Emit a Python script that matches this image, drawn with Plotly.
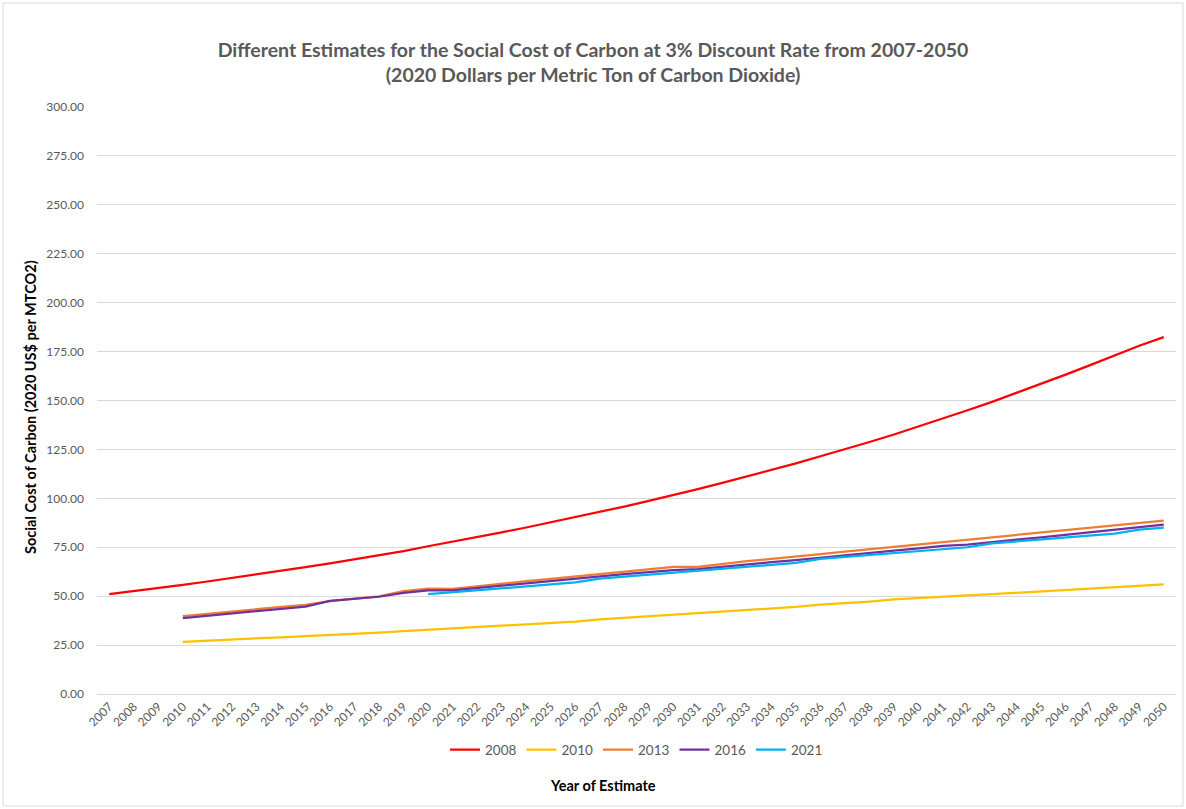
import plotly.graph_objects as go

# Estimate years shown on the category axis
years = list(range(2007, 2051))

# Social cost of carbon, 3% discount rate, 2020 US$ per metric ton CO2
scc_2008 = [51.0, 52.5, 54.2, 55.8, 57.5, 59.3, 61.0, 62.9, 64.8, 66.8,
            68.8, 70.9, 73.0, 75.5, 77.8, 80.1, 82.6, 85.1, 87.7, 90.3,
            93.0, 95.8, 98.7, 101.6, 104.7, 107.9, 111.1, 114.5, 117.9, 121.5,
            125.0, 128.8, 132.6, 136.6, 140.8, 145.0, 149.3, 153.8, 158.4, 163.2,
            168.1, 173.1, 178.0, 182.4]

years_2010 = list(range(2010, 2051))
scc_2010 = [26.7, 27.2, 27.8, 28.3, 29.0, 29.6, 30.1, 30.8, 31.4, 32.1,
            32.8, 33.5, 34.2, 34.9, 35.6, 36.3, 37.0, 38.2, 39.0, 39.8,
            40.6, 41.4, 42.1, 42.9, 43.7, 44.5, 45.7, 46.4, 47.2, 48.3,
            49.1, 49.8, 50.4, 51.0, 51.7, 52.4, 53.1, 53.8, 54.5, 55.3,
            56.0]

years_2013 = list(range(2010, 2051))
scc_2013 = [39.8, 41.0, 42.3, 43.4, 44.5, 45.5, 47.5, 48.7, 49.9, 52.6,
            53.8, 53.7, 55.1, 56.5, 57.7, 58.8, 60.0, 61.4, 62.6, 63.8,
            65.0, 65.0, 66.5, 67.9, 69.0, 70.1, 71.5, 72.8, 74.0, 75.2,
            76.5, 77.7, 78.9, 80.1, 81.4, 82.6, 83.8, 85.0, 86.3, 87.5,
            88.6]

years_2016 = list(range(2010, 2051))
scc_2016 = [38.8, 40.0, 41.2, 42.5, 43.6, 44.7, 47.6, 48.6, 49.7, 51.7,
            52.9, 53.0, 54.2, 55.5, 56.8, 57.9, 59.1, 60.3, 61.3, 62.3,
            63.3, 63.8, 65.1, 66.3, 67.4, 68.4, 69.7, 71.0, 72.2, 73.3,
            74.4, 75.7, 76.3, 77.7, 78.9, 80.0, 81.3, 82.5, 83.7, 85.1,
            86.6]

years_2021 = list(range(2020, 2051))
scc_2021 = [51, 52, 53, 54, 55, 56, 57, 59, 60, 61,
            62, 63, 64, 65, 66, 67, 69, 70, 71, 72,
            73, 74, 75, 77, 78, 79, 80, 81, 82, 84,
            85]

y_ticks = [0, 25, 50, 75, 100, 125, 150, 175, 200, 225, 250, 275, 300]

series = [
    ("2008", years, scc_2008, "#FF0000"),
    ("2010", years_2010, scc_2010, "#FFC000"),
    ("2013", years_2013, scc_2013, "#ED7D31"),
    ("2016", years_2016, scc_2016, "#7030A0"),
    ("2021", years_2021, scc_2021, "#00B0F0"),
]

FONT = "Lato"
GRAY = "#595959"

fig = go.Figure()
for name, xs, ys, color in series:
    fig.add_trace(go.Scatter(
        x=xs, y=ys, name=name, mode="lines",
        line=dict(color=color, width=2.25),
    ))

fig.update_layout(
    width=1186, height=809,
    margin=dict(l=97, r=10, t=107, b=115),
    paper_bgcolor="white", plot_bgcolor="white",
    font=dict(family=FONT, color=GRAY, size=12),
    title=dict(
        text="Different Estimates for the Social Cost of Carbon at 3% Discount Rate from 2007-2050"
             "<br>(2020 Dollars per Metric Ton of Carbon Dioxide)",
        x=0.5, xanchor="center", y=1 - 57 / 809, yanchor="middle",
        font=dict(family=FONT, size=19.5, color=GRAY, weight="bold"),
    ),
    showlegend=True,
    legend=dict(
        orientation="h", x=0.5, xanchor="center", y=-0.095, yanchor="middle",
        font=dict(family=FONT, size=13.5, color=GRAY),
        itemwidth=30, tracegroupgap=0,
    ),
    xaxis=dict(
        range=[2006.5, 2050.5],
        tickmode="array", tickvals=years, ticktext=[str(y) for y in years],
        tickangle=-45, showgrid=False, zeroline=False,
        showline=True, linecolor="#d9d9d9", linewidth=1,
        ticks="", tickfont=dict(family=FONT, size=12, color=GRAY),
        fixedrange=True,
    ),
    yaxis=dict(
        range=[0, 300],
        tickmode="array", tickvals=y_ticks,
        ticktext=[f"{v:.2f}" for v in y_ticks],
        showgrid=True, gridcolor="#d9d9d9", gridwidth=1,
        zeroline=False, showline=False, ticks="",
        ticklabelstandoff=12,
        tickfont=dict(family=FONT, size=12, color=GRAY),
        fixedrange=True,
    ),
    annotations=[
        dict(text="<b>Year of Estimate</b>", xref="paper", yref="paper",
             x=0.469, y=(694 - 785) / 587, xanchor="center", yanchor="middle",
             showarrow=False,
             font=dict(family=FONT, size=14.5, color="black")),
        dict(text="<b>Social Cost of Carbon (2020 US$ per MTCO2)</b>",
             xref="paper", yref="paper", x=(30 - 97) / 1079, y=(694 - 407) / 587,
             xanchor="center", yanchor="middle",
             textangle=-90, showarrow=False,
             font=dict(family=FONT, size=14.5, color="black")),
    ],
    shapes=[
        dict(type="rect", xref="paper", yref="paper",
             x0=(3 - 97) / 1079, x1=(1183 - 97) / 1079,
             y0=(694 - 806) / 587, y1=(694 - 3) / 587,
             line=dict(color="#d9d9d9", width=1), layer="below"),
    ],
)

fig.write_html("out.html")
